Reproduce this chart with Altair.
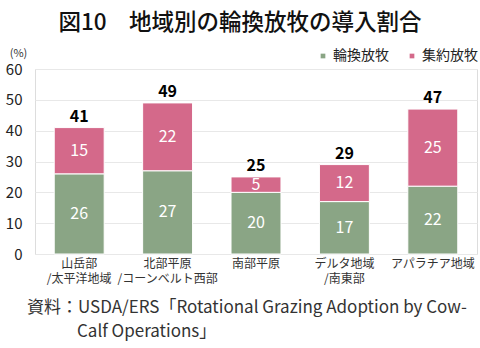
import altair as alt
import pandas as pd

regions = ["山岳部|/太平洋地域", "北部平原|/コーンベルト西部", "南部平原", "デルタ地域|/南東部", "アパラチア地域"]
series_names = ["輪換放牧", "集約放牧"]
rotational = [26, 27, 20, 17, 22]
intensive = [15, 22, 5, 12, 25]
totals = [41, 49, 25, 29, 47]
y_ticks = [0, 10, 20, 30, 40, 50, 60]
colors = ["#8aa585", "#d4698a"]
title_text = "図10　地域別の輪換放牧の導入割合"
footer_lines = ["資料：USDA/ERS「Rotational Grazing Adoption by Cow-", "Calf Operations」"]

JP = "Noto Sans CJK JP"
NUM = "Noto Sans CJK JP"

rows = []
for r, a, b in zip(regions, rotational, intensive):
    rows.append({"region": r, "type": series_names[0], "value": a, "ord": 0})
    rows.append({"region": r, "type": series_names[1], "value": b, "ord": 1})
df = pd.DataFrame(rows)
df_tot = pd.DataFrame({"region": regions, "total": totals})

W, H = 442, 185
yscale = alt.Scale(domain=[0, 60])
yaxis = alt.Axis(values=y_ticks, ticks=False, domain=False,
                 labelOverlap=False, grid=True,
                 labelFontSize=15, labelPadding=13, labelColor="#222222",
                 labelFont=JP, gridColor="#e8e8e8",
                 title="(%)", titleAngle=0, titleX=-17, titleY=-16,
                 titleAlign="center", titleBaseline="middle",
                 titleFontSize=11, titleFontWeight="normal", titleFont=JP,
                 titleColor="#333333")

xenc = alt.X("region:N", sort=regions, title=None,
             scale=alt.Scale(paddingInner=0.435, paddingOuter=0.2175),
             axis=alt.Axis(labelExpr="split(datum.label, '|')", labelAngle=0,
                           ticks=False, domain=False, labelPadding=4, labelOverlap=False,
                           labelFontSize=12, labelLineHeight=15, labelFont=JP,
                           labelColor="#333333"))

base = alt.Chart(df).transform_stack(
    stack="value", groupby=["region"], as_=["y0", "y1"],
    sort=[alt.SortField("ord", order="ascending")]
).transform_calculate(mid="(datum.y0 + datum.y1) / 2")

bars = base.mark_bar(stroke="white", strokeWidth=1).encode(
    x=xenc,
    y=alt.Y("y0:Q", scale=yscale, axis=yaxis),
    y2="y1:Q",
    color=alt.Color("type:N", sort=series_names,
                    scale=alt.Scale(domain=series_names, range=colors),
                    legend=alt.Legend(title=None, orient="none", legendX=281, legendY=-20,
                                      direction="horizontal", symbolType="square",
                                      symbolSize=22, symbolStrokeWidth=0,
                                      labelFontSize=14, labelFont=JP, labelColor="#222222",
                                      columnPadding=16, labelOffset=3)),
)

seg_labels = base.mark_text(color="white", fontSize=16, font=NUM, baseline="middle").encode(
    x=xenc,
    y=alt.Y("mid:Q", scale=yscale, axis=yaxis),
    text=alt.Text("value:Q"),
)

tot_labels = alt.Chart(df_tot).mark_text(color="black", fontSize=16, font=NUM,
                                         fontWeight="bold", baseline="bottom", dy=-3).encode(
    x=xenc,
    y=alt.Y("total:Q", scale=yscale, axis=yaxis),
    text=alt.Text("total:Q"),
)

foot1 = alt.Chart(pd.DataFrame({"t": [footer_lines[0]]})).mark_text(
    align="left", baseline="middle", fontSize=17, font=JP, color="#333333"
).encode(x=alt.value(-8), y=alt.value(239), text="t:N")
foot2 = alt.Chart(pd.DataFrame({"t": [footer_lines[1]]})).mark_text(
    align="left", baseline="middle", fontSize=17, font=JP, color="#333333"
).encode(x=alt.value(42), y=alt.value(263), text="t:N")

chart = alt.layer(bars, seg_labels, tot_labels, foot1, foot2).properties(
    width=W, height=H,
    autosize=alt.AutoSizeParams(type="none"),
    padding={"left": 35, "top": 69, "right": 3, "bottom": 94},
    title=alt.TitleParams(title_text, fontSize=22.5, font=JP, fontWeight=500,
                          anchor="middle", dx=-16, offset=13, color="#111111"),
).configure_view(stroke=None).configure(background="white")

chart.save("out.html", embed_options={"renderer": "svg", "actions": False})
